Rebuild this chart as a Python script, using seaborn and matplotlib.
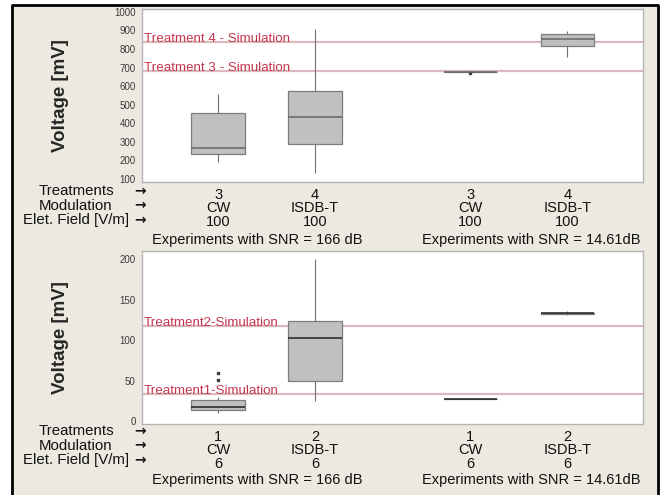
import numpy as np
import pandas as pd
import matplotlib
matplotlib.use("Agg")
import matplotlib.pyplot as plt
import matplotlib.transforms as mtransforms
from matplotlib.patches import Rectangle
from matplotlib.lines import Line2D
import seaborn as sns

# ---- data (mV) ----
snr_groups = ["SNR = 166 dB", "SNR = 166 dB", "SNR = 14.61 dB", "SNR = 14.61 dB"]
modulation = ["CW", "ISDB-T", "CW", "ISDB-T"]

# upper panel: treatments 3 / 4, 100 V/m
treat_top = ["3", "4", "3", "4"]
field_top = ["100", "100", "100", "100"]
volt_top = [
    [190, 233, 266, 454, 557],
    [131, 289, 433, 576, 907],
    [671, 678, 678, 678, 678],
    [756, 818, 855, 878, 894],
]
sim_top_names = ["Treatment 3 - Simulation", "Treatment 4 - Simulation"]
sim_top_values = [684, 837]

# lower panel: treatments 1 / 2, 6 V/m
treat_bot = ["1", "2", "1", "2"]
field_bot = ["6", "6", "6", "6"]
volt_bot = [
    [10, 12, 14, 14, 16, 17, 18, 22, 25, 26, 30, 51, 60],
    [25, 50, 103, 124, 200],
    [27, 27, 27, 27, 27],
    [131, 132, 133, 134, 136],
]
sim_bot_names = ["Treatment1-Simulation", "Treatment2-Simulation"]
sim_bot_values = [33, 117]

experiment_titles = ["Experiments with SNR = 166 dB", "Experiments with SNR = 14.61dB"]

# ---- layout ----
group_x = [1.0, 2.0, 3.6, 4.6]
W, H = 663, 495

sns.set_style("white")
plt.rcParams["font.family"] = ["Liberation Sans", "DejaVu Sans"]

fig = plt.figure(figsize=(W / 100, H / 100), dpi=100, facecolor="white")
# beige panel with a black frame on left, top and right (open at the bottom)
fig.patches.append(Rectangle((12 / W, 0), (658 - 12) / W, 1 - 5 / H,
                             transform=fig.transFigure, facecolor="#ece9e0",
                             edgecolor="none", zorder=-1))
fig.add_artist(Line2D([12 / W, 12 / W, 658 / W, 658 / W], [0, 1 - 5 / H, 1 - 5 / H, 0],
                      transform=fig.transFigure, color="black", linewidth=2))


def px_axes(left, top, right, bottom):
    return fig.add_axes([left / W, 1 - bottom / H, (right - left) / W, (bottom - top) / H])


def panel(ax, volts, treat, field, ylim, yticks, sim_names, sim_values, median_color, row_y):
    df = pd.DataFrame({
        "x": np.concatenate([[gx] * len(v) for gx, v in zip(group_x, volts)]),
        "volt": np.concatenate(volts),
    })
    sns.boxplot(data=df, x="x", y="volt", native_scale=True, orient="x", width=0.55,
                color="#c0c0c0", linecolor="#7a7a7a", linewidth=0.9, showcaps=False,
                saturation=1, ax=ax,
                boxprops=dict(facecolor="#c0c0c0", edgecolor="#7d7d7d"),
                medianprops=dict(color=median_color, linewidth=1.1),
                whiskerprops=dict(color="#707070", linewidth=0.8),
                flierprops=dict(marker="s", markersize=1.8, markerfacecolor="#3a3a3a",
                                markeredgecolor="#3a3a3a"))
    ax.set_xlim(group_x[0] - 0.784, group_x[-1] + 0.78)
    ax.set_ylim(*ylim)
    ax.set_yticks(yticks)
    ax.set_xticks(group_x)
    ax.set_xticklabels([f"{t}\n{m}\n{f}" for t, m, f in zip(treat, modulation, field)],
                       fontsize=10.5, linespacing=0.98, color="#111111")
    ax.tick_params(axis="y", labelsize=7, colors="#3a3a3a", length=3, width=0.8, pad=1.5)
    ax.tick_params(axis="x", length=3, width=0.8, color="#9a9a9a", pad=1)
    for s in ax.spines.values():
        s.set_color("#b5b5b5")
        s.set_linewidth(1)
    ax.set_facecolor("white")
    ax.set_xlabel("")
    ax.set_ylabel("Voltage [mV]", fontsize=13.5, fontweight="bold",
                  family=["Liberation Sans Narrow", "Liberation Sans"])
    ax.yaxis.set_label_coords(-0.146, 0.5)

    trans = mtransforms.blended_transform_factory(ax.transAxes, ax.transData)
    for name, val in zip(sim_names, sim_values):
        ax.axhline(val, color="#dcb8bf", linewidth=1.6, zorder=1)
        ax.text(0.003, val, name, transform=trans, color="#c4364e", fontsize=9.6,
                va="baseline", ha="left")

    # row headers on the left
    for i, lab in enumerate(["Treatments", "Modulation", "Elet. Field [V/m]"]):
        fig.text(76 / W, 1 - (row_y + 14.5 * i) / H, lab, ha="center", va="center",
                 fontsize=10.8, color="#111111")
        fig.text(140 / W, 1 - (row_y + 14.5 * i) / H, "\u2192", ha="center", va="center",
                 fontsize=10, fontweight="bold", color="#111111", family="DejaVu Sans")
    for cx, title in zip([257, 531], experiment_titles):
        fig.text(cx / W, 1 - (row_y + 49) / H, title, ha="center", va="center",
                 fontsize=10.5, color="#111111")


ax_top = px_axes(142, 9, 643, 182)
panel(ax_top, volt_top, treat_top, field_top, (84, 1015), np.arange(100, 1001, 100),
      sim_top_names, sim_top_values, "#666666", 191)

ax_bot = px_axes(142, 251, 643, 424)
panel(ax_bot, volt_bot, treat_bot, field_bot, (-3.5, 210), np.arange(0, 201, 50),
      sim_bot_names, sim_bot_values, "#222222", 431)

fig.savefig("out.png", dpi=100, facecolor="white")
